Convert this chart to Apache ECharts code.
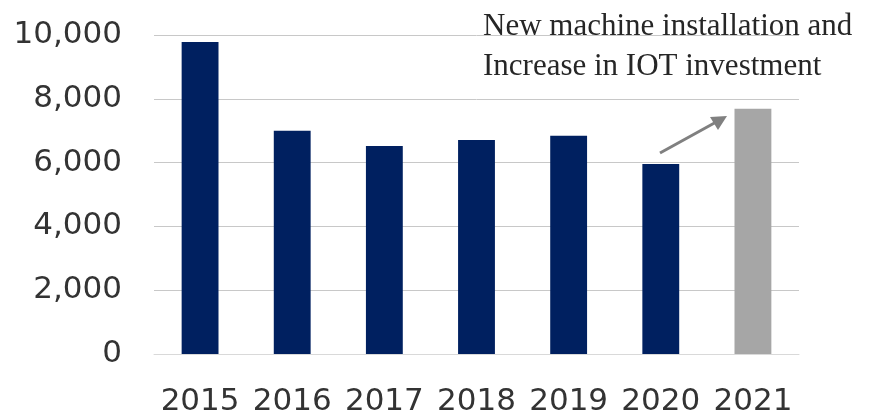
<!DOCTYPE html>
<html>
<head>
<meta charset="utf-8">
<script src="https://cdn.jsdelivr.net/npm/echarts@6/dist/echarts.min.js"></script>
<style>
  html, body { margin: 0; padding: 0; background: #fff; }
  #chart { width: 869px; height: 414px; }
</style>
</head>
<body>
<div id="chart"></div>
<script>
// years on the x axis
const years = ['2015', '2016', '2017', '2018', '2019', '2020', '2021'];
// bar heights
const values = [9780, 7000, 6520, 6710, 6840, 5960, 7690];
// last year is the planned one, drawn in gray
const barColors = ['#002060', '#002060', '#002060', '#002060', '#002060', '#002060', '#a6a6a6'];
const noteLines = ['New machine installation and', 'Increase in IOT investment'];

const chart = echarts.init(document.getElementById('chart'));

const option = {
    animation: false,
    grid: {
        left: 154, right: 70, top: 35, bottom: 60,
        containLabel: false,
        outerBoundsMode: 'none'
    },
    xAxis: {
        type: 'category',
        data: years,
        axisLine: { lineStyle: { color: '#d9d9d9', width: 1 } },
        axisTick: { show: false },
        axisLabel: {
            interval: 0,
            color: '#333333',
            fontFamily: 'DejaVu Sans',
            fontSize: 31,
            margin: 32
        }
    },
    yAxis: {
        type: 'value',
        min: 0,
        max: 10000,
        interval: 2000,
        axisLine: { show: false },
        axisTick: { show: false },
        splitLine: { lineStyle: { color: '#c8c8c8', width: 1 } },
        axisLabel: {
            color: '#333333',
            fontFamily: 'DejaVu Sans',
            fontSize: 31,
            margin: 32,
            formatter: v => v.toLocaleString('en-US')
        }
    },
    series: [{
        type: 'bar',
        barWidth: '40%',
        data: values.map((v, i) => ({
            value: v,
            itemStyle: { color: barColors[i] }
        }))
    }],
    graphic: [
        {
            type: 'text',
            left: 483,
            top: 7,
            style: {
                text: noteLines.join('\n'),
                font: '31px "Liberation Serif"',
                lineHeight: 40,
                fill: '#262626'
            }
        },
        {
            type: 'line',
            shape: { x1: 660, y1: 153, x2: 718, y2: 121 },
            style: { stroke: '#808080', lineWidth: 3 }
        },
        {
            type: 'polygon',
            shape: { points: [[727, 116], [710, 117], [718, 130]] },
            style: { fill: '#808080' }
        }
    ]
};

chart.setOption(option);
</script>
</body>
</html>
